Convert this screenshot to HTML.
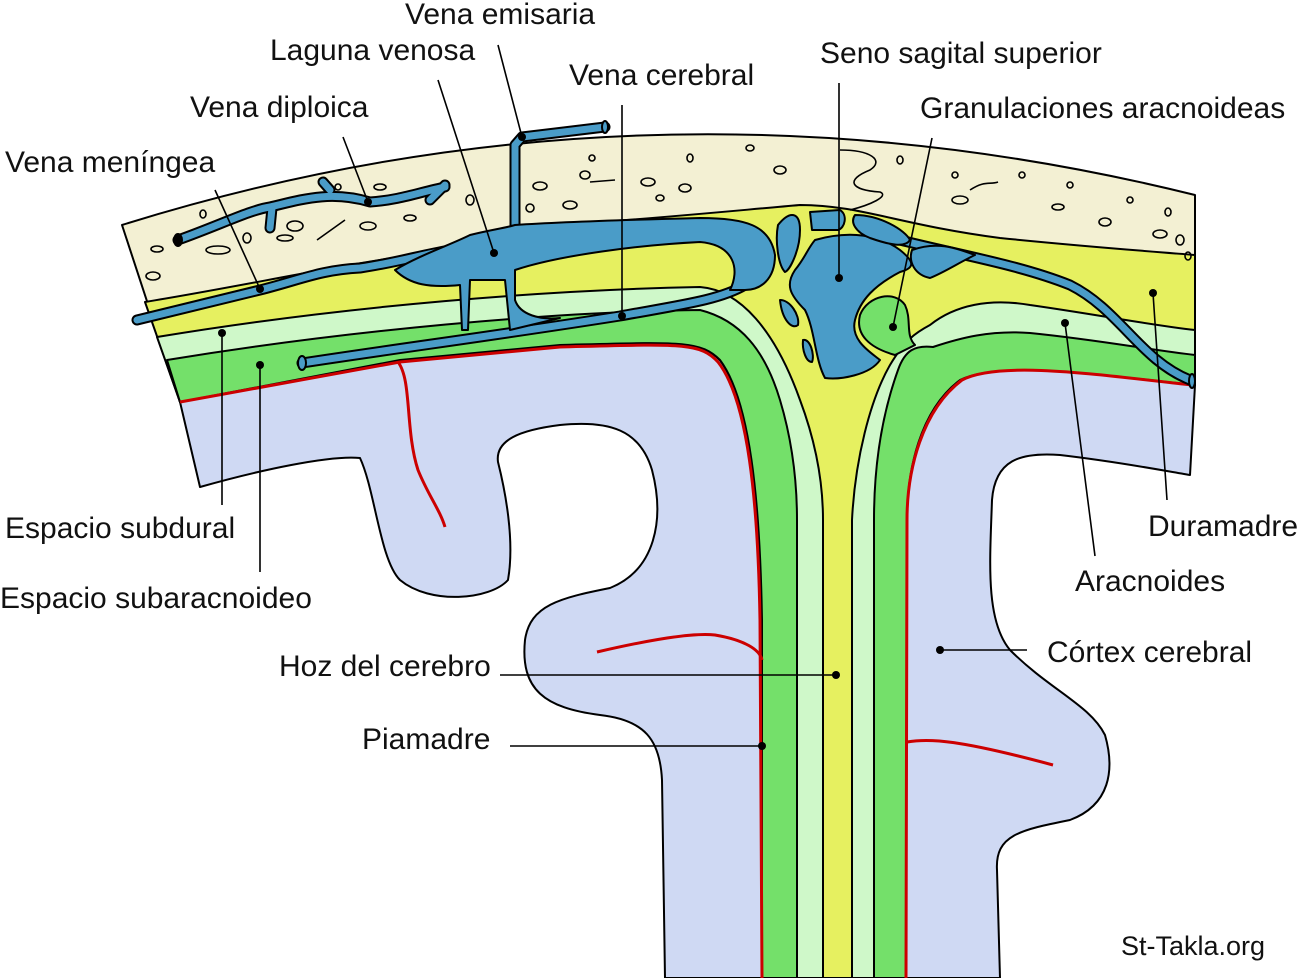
<!DOCTYPE html>
<html><head><meta charset="utf-8"><style>
html,body{margin:0;padding:0;background:#fff;}
svg{display:block}
text{font-family:"Liberation Sans",sans-serif;font-size:30px;fill:#111}
</style></head><body>
<svg width="1300" height="978" viewBox="0 0 1300 978" xmlns="http://www.w3.org/2000/svg">
<g stroke="#000" stroke-width="2" stroke-linejoin="round">
<!-- lavender brain -->
<path fill="#cfd9f3" d="M180,402 L200,487 C260,470 330,455 360,458 C375,490 380,560 400,580 C430,605 490,600 508,580 C515,540 505,490 498,462 C495,440 520,430 560,425 C610,420 640,430 652,470 C665,520 655,570 610,588 C560,598 530,605 525,640 C520,690 545,708 600,715 C645,720 660,740 662,780 L665,978 L1000,978 L997,870 C995,835 1020,830 1070,820 C1110,805 1115,770 1105,735 C1090,705 1050,690 1010,650 C985,620 990,560 992,500 C995,460 1020,452 1060,455 C1120,462 1160,470 1190,475 L1195,385 L700,330 L400,350 Z"/>
<!-- bone -->
<path fill="#f3f0d3" d="M122,225 Q650,60 1195,195 L1195,385 C1100,375 1000,360 960,380 C920,410 907,470 907,520 L906,978 L762,978 L762,620 C760,500 750,400 720,360 C700,340 680,342 560,345 L400,360 L180,402 Z"/>
<!-- yellow dura -->
<path fill="#e6f060" d="M145,302 C250,285 350,262 450,250 L520,228 C640,220 720,212 800,205 C860,205 900,225 1000,238 C1100,248 1160,252 1195,255 L1195,385 C1100,375 1000,360 960,380 C920,410 907,470 907,520 L906,978 L762,978 L762,620 C760,500 750,400 720,360 C700,340 680,342 560,345 L400,360 L180,402 Z"/>
<!-- light green -->
<path fill="#cff8c9" d="M157,337 C350,305 550,290 700,287 C740,290 775,330 800,400 C815,440 823,480 823,520 L823,978 L852,978 L852,520 C855,460 870,400 890,365 C905,340 915,333 930,325 C955,305 990,298 1030,305 C1100,315 1150,325 1195,330 L1195,385 C1100,375 1000,360 960,380 C920,410 907,470 907,520 L906,978 L762,978 L762,620 C760,500 750,400 720,360 C700,340 680,342 560,345 L400,360 L180,402 Z"/>
<!-- green -->
<path fill="#74e06a" d="M167,360 C350,330 550,312 700,310 C740,320 765,350 780,400 C792,440 797,480 797,520 L797,978 L874,978 L874,520 C874,470 880,420 898,370 C905,350 915,345 933,347 C960,338 990,330 1030,333 C1100,340 1150,350 1195,355 L1195,385 C1100,375 1000,360 960,380 C920,410 907,470 907,520 L906,978 L762,978 L762,620 C760,500 750,400 720,360 C700,340 680,342 560,345 L400,360 L180,402 Z"/>
<!-- green bulb granulation -->
<path fill="#74e06a" d="M895,355 C870,348 855,335 860,315 C868,295 895,290 905,305 C912,320 905,335 915,345 Z"/>
</g>
<!-- red pia -->
<g fill="none" stroke="#cc0000" stroke-width="3">
<path d="M180,402 L400,362 L560,347 C680,344 700,342 718,362 C748,400 758,500 760,620 L762,978"/>
<path d="M1192,385 C1100,375 1000,360 962,380 C922,410 907,470 907,520 L906,978"/>
<path d="M398,362 C412,380 405,430 418,470 C428,495 440,510 445,527"/>
<path d="M597,652 C640,642 690,632 715,635 C745,640 760,650 762,660"/>
<path d="M907,742 C930,738 960,740 1053,765"/>
</g>
<!-- veins -->
<g stroke-linecap="round" stroke-linejoin="round" fill="none">
<g stroke="#000" stroke-width="11">
<path d="M178,240 C220,225 250,210 270,207 C300,200 330,190 370,202 C400,200 420,192 445,187"/>
<path d="M330,190 L323,182 M272,208 L270,228 M430,200 L445,185"/>
<path d="M137,320 C200,305 240,295 260,290 C300,280 320,270 360,268 C400,262 420,255 450,250"/>
<path d="M522,137 L515,145 L515,230 M522,137 L605,127"/>
<path d="M302,363 C400,348 500,335 620,316 C680,305 720,300 745,285"/>
<path d="M900,240 C960,255 1020,265 1070,285 C1120,310 1140,360 1190,380"/>
</g>
<g stroke="#4a9cc8" stroke-width="7">
<path d="M178,240 C220,225 250,210 270,207 C300,200 330,190 370,202 C400,200 420,192 445,187"/>
<path d="M330,190 L323,182 M272,208 L270,228 M430,200 L445,185"/>
<path d="M137,320 C200,305 240,295 260,290 C300,280 320,270 360,268 C400,262 420,255 450,250"/>
<path d="M522,137 L515,145 L515,230 M522,137 L605,127"/>
<path d="M302,363 C400,348 500,335 620,316 C680,305 720,300 745,285"/>
<path d="M900,240 C960,255 1020,265 1070,285 C1120,310 1140,360 1190,380"/>
</g>
</g>
<g stroke="#000" stroke-width="2" fill="#4a9cc8" stroke-linejoin="round">
<path d="M395,270 C420,255 450,245 470,235 C490,230 505,228 515,225 C560,222 620,220 700,218 C745,218 770,225 775,255 C775,280 760,290 745,290 L730,290 C740,270 735,245 700,242 C640,245 560,255 515,270 L515,300 C520,315 540,320 560,318 L510,330 L505,280 L470,280 L468,330 L462,330 L460,285 C430,288 410,285 395,270 Z"/>
<path d="M815,240 C850,230 880,235 900,250 C915,262 915,268 900,272 C875,285 860,300 855,320 C850,340 870,352 880,360 C870,375 840,380 825,378 C815,360 815,330 805,310 C790,295 785,285 795,270 C805,258 808,248 815,240 Z"/>
<path d="M778,225 C790,210 800,212 800,230 C800,250 790,270 785,272 C778,265 775,240 778,225 Z"/>
<path d="M810,212 L840,210 C848,215 845,228 838,230 L812,230 Z"/>
<path d="M855,215 C880,215 905,230 910,240 C905,248 890,245 870,238 C855,232 850,222 855,215 Z"/>
<path d="M780,300 C790,300 800,315 798,325 C792,330 782,320 780,300 Z"/>
<path d="M803,340 C810,338 815,355 812,362 C806,362 802,350 803,340 Z"/>
<path d="M912,250 C940,240 960,250 975,255 C960,262 945,272 930,278 C915,275 908,262 912,250 Z"/>
<ellipse cx="178" cy="240" rx="4" ry="6" fill="#000"/>
<ellipse cx="605" cy="127" rx="3" ry="6" fill="#4a9cc8"/>
<ellipse cx="302" cy="363" rx="4" ry="7" fill="#4a9cc8"/>
<ellipse cx="1192" cy="381" rx="3" ry="7" fill="#4a9cc8"/>
</g>
<g fill="none" stroke="#000" stroke-width="1.6">
<ellipse cx="157" cy="249" rx="6" ry="3"/><ellipse cx="153" cy="276" rx="7" ry="4"/>
<ellipse cx="203" cy="214" rx="3" ry="4"/><ellipse cx="218" cy="250" rx="12" ry="4"/>
<ellipse cx="247" cy="238" rx="4" ry="5"/><ellipse cx="295" cy="226" rx="8" ry="5"/>
<ellipse cx="285" cy="238" rx="8" ry="3"/><ellipse cx="338" cy="187" rx="3" ry="3"/>
<ellipse cx="380" cy="187" rx="6" ry="3"/><ellipse cx="368" cy="226" rx="8" ry="4"/>
<ellipse cx="410" cy="218" rx="6" ry="3"/><ellipse cx="470" cy="200" rx="4" ry="5"/>
<ellipse cx="540" cy="186" rx="7" ry="4"/><ellipse cx="570" cy="205" rx="7" ry="4"/>
<ellipse cx="585" cy="175" rx="5" ry="4"/><ellipse cx="530" cy="208" rx="4" ry="4"/>
<ellipse cx="592" cy="158" rx="3" ry="3"/><ellipse cx="648" cy="182" rx="7" ry="4"/>
<ellipse cx="685" cy="188" rx="6" ry="4"/><ellipse cx="690" cy="158" rx="3" ry="4"/>
<ellipse cx="660" cy="198" rx="4" ry="3"/><ellipse cx="750" cy="148" rx="4" ry="3"/>
<ellipse cx="780" cy="170" rx="6" ry="4"/><ellipse cx="900" cy="160" rx="3" ry="4"/>
<ellipse cx="960" cy="200" rx="8" ry="4"/><ellipse cx="955" cy="175" rx="3" ry="3"/>
<ellipse cx="1022" cy="175" rx="3" ry="3"/><ellipse cx="1058" cy="207" rx="6" ry="3"/>
<ellipse cx="1070" cy="185" rx="3" ry="3"/><ellipse cx="1105" cy="222" rx="6" ry="4"/>
<ellipse cx="1160" cy="234" rx="7" ry="4"/><ellipse cx="1180" cy="240" rx="4" ry="5"/>
<ellipse cx="1188" cy="256" rx="3" ry="4"/><ellipse cx="1168" cy="212" rx="3" ry="4"/>
<ellipse cx="1130" cy="200" rx="3" ry="3"/>
<path d="M317,240 L345,220 M590,182 L615,180 M970,190 C985,180 990,185 998,182"/>
<path d="M840,150 C870,150 885,160 870,170 C845,180 850,190 880,192 C890,196 870,205 850,210"/>
</g>
<g stroke="#000" stroke-width="1.6" fill="none">
<path d="M498,45 L522,137 M438,80 L494,253 M622,105 L622,316 M839,83 L839,278 M932,138 L893,327 M343,137 L368,202 M215,190 L260,289 M222,333 L222,505 M260,365 L260,572 M1153,293 L1167,500 M1065,323 L1095,556 M940,650 L1027,650 M500,675 L836,675 M510,746 L762,746"/>
</g>
<g fill="#000">
<circle cx="522" cy="137" r="4"/><circle cx="494" cy="253" r="4"/><circle cx="622" cy="316" r="4"/>
<circle cx="839" cy="278" r="4"/><circle cx="893" cy="327" r="4"/><circle cx="368" cy="202" r="4"/>
<circle cx="260" cy="289" r="4"/><circle cx="222" cy="333" r="4"/><circle cx="260" cy="365" r="4"/>
<circle cx="1153" cy="293" r="4"/><circle cx="1065" cy="323" r="4"/><circle cx="940" cy="650" r="4"/>
<circle cx="836" cy="675" r="4"/><circle cx="762" cy="746" r="4"/>
</g>
<g>
<text x="405" y="24">Vena emisaria</text>
<text x="270" y="60">Laguna venosa</text>
<text x="569" y="85">Vena cerebral</text>
<text x="820" y="63">Seno sagital superior</text>
<text x="920" y="118">Granulaciones aracnoideas</text>
<text x="190" y="117">Vena diploica</text>
<text x="5" y="172">Vena meníngea</text>
<text x="5" y="538">Espacio subdural</text>
<text x="0" y="608">Espacio subaracnoideo</text>
<text x="1148" y="536">Duramadre</text>
<text x="1075" y="591">Aracnoides</text>
<text x="1047" y="662">Córtex cerebral</text>
<text x="279" y="676">Hoz del cerebro</text>
<text x="362" y="749">Piamadre</text>
<text x="1121" y="955" style="font-size:27px">St-Takla.org</text>
</g>
</svg>
</body></html>
